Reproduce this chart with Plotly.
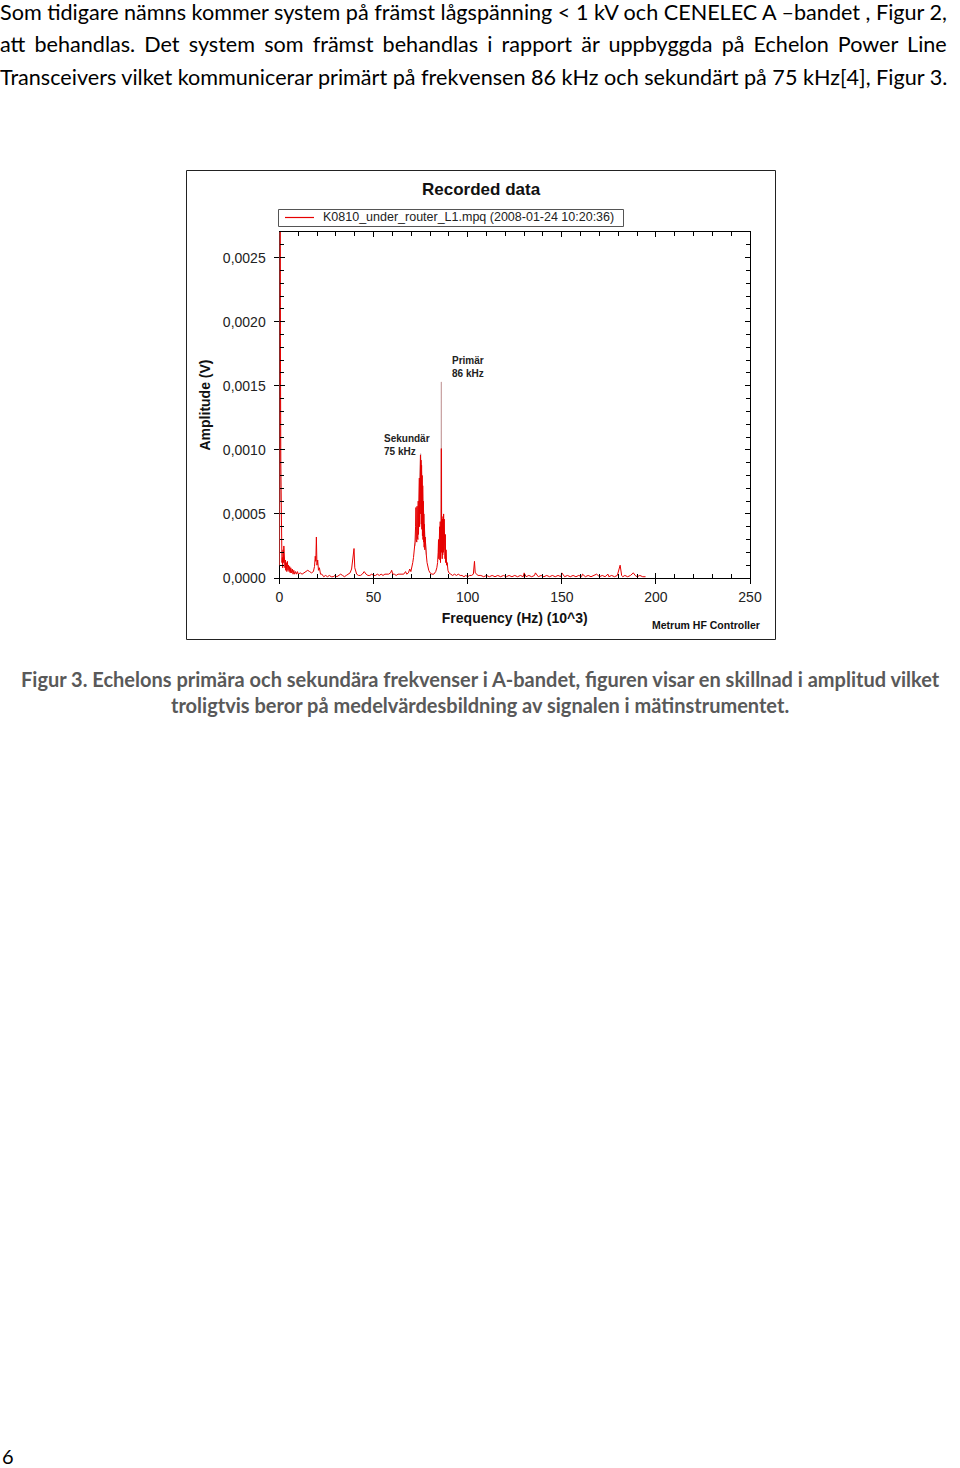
import plotly.graph_objects as go

W, H = 960, 1468

# ---- data ----
freq_khz = [0.0, 0.3, 0.5, 0.7, 0.9, 1.1, 1.3, 1.5, 1.7, 1.9, 2.1, 2.3, 2.5, 2.7, 2.9, 3.1, 3.3, 3.6, 3.9,
            4.2, 4.5, 4.8, 5.1, 5.4, 5.7, 6.0, 6.4, 6.8, 7.2, 7.6, 8.0, 8.5, 9.0, 9.5, 10.0, 11.0, 12.0, 13.0, 14.0,
            15.0, 16.0, 17.0, 18.0, 18.6, 19.0, 19.3, 19.6, 19.9, 20.3, 20.7, 21.2, 21.8, 22.5, 23.5, 24.5, 25.5,
            26.5, 27.5, 28.5, 29.5, 30.5, 31.5, 32.5, 33.5, 34.5, 35.5, 36.5, 37.5, 38.3, 38.8, 39.2, 39.6, 40.0,
            40.5, 41.0, 42.0, 43.0, 44.0, 45.0, 46.0, 47.0, 48.0, 49.0, 50.0, 51.0, 52.0, 53.0, 54.0, 55.0, 56.0,
            57.0, 58.0, 59.0, 59.6, 60.2, 61.0, 62.0, 63.0, 64.0, 65.0, 66.0, 67.0, 67.6, 68.5, 69.2, 69.8, 70.3,
            70.8, 71.2, 71.6, 72.0, 72.3, 72.5, 72.65, 72.8, 72.95, 73.1, 73.25, 73.4, 73.55, 73.7, 73.85, 74.0,
            74.15, 74.3, 74.45, 74.6, 74.75, 74.9, 75.05, 75.2, 75.35, 75.5, 75.65, 75.8, 75.95, 76.1, 76.25, 76.4,
            76.55, 76.7, 76.85, 77.0, 77.2, 77.4, 77.7, 78.0, 78.4, 78.8, 79.3, 80.0, 81.0, 82.0, 83.0, 83.6, 84.0,
            84.3, 84.5, 84.65, 84.8, 84.95, 85.1, 85.25, 85.4, 85.55, 85.7, 85.85, 86.0, 86.15, 86.3, 86.45, 86.6,
            86.75, 86.9, 87.05, 87.2, 87.35, 87.5, 87.65, 87.8, 87.95, 88.1, 88.3, 88.5, 88.8, 89.1, 89.5, 90.0,
            91.0, 92.0, 93.0, 94.0, 95.0, 96.0, 97.0, 98.0, 99.0, 100.0, 101.0, 102.0, 103.0, 103.6, 104.0, 104.6,
            105.5, 107.0, 108.5, 110.0, 111.5, 113.0, 114.5, 116.0, 117.5, 119.0, 120.5, 122.0, 123.5, 125.0,
            126.5, 128.0, 129.5, 130.0, 131.0, 132.5, 134.0, 135.5, 136.0, 137.5, 139.0, 140.5, 142.0, 143.5,
            145.0, 146.5, 148.0, 149.5, 150.0, 151.5, 153.0, 154.5, 156.0, 157.5, 159.0, 160.5, 161.0, 162.5,
            164.0, 165.5, 167.0, 168.5, 170.0, 171.5, 173.0, 174.5, 175.0, 176.5, 178.0, 179.5, 181.0, 181.8,
            182.4, 183.5, 185.0, 186.5, 188.0, 189.0, 190.0, 191.5, 193.0, 194.5, 195.3]
amp_v = [0.00010, 0.00290, 0.00180, 0.00090, 0.00040, 0.00020, 0.00012, 0.00016, 0.00008, 0.00022,
         0.00012, 0.00025, 0.00010, 0.00018, 0.00008, 0.00014, 0.00006, 0.00012, 0.00005, 0.00013, 0.00006,
         0.00010, 0.00005, 0.00009, 0.00004, 0.00008, 0.00004, 0.00007, 0.00003, 0.00006, 0.00003, 0.00005,
         0.00003, 0.00005, 0.00003, 0.00004, 0.00003, 0.00004, 0.00005, 0.00006, 0.00005, 0.00004, 0.00005,
         0.00009, 0.00017, 0.00013, 0.00032, 0.00010, 0.00014, 0.00006, 0.00008, 0.00003, 0.00003, 0.00001,
         0.00002, 0.00001, 0.00002, 0.00001, 0.00001, 0.00002, 0.00001, 0.00002, 0.00003, 0.00002, 0.00001,
         0.00002, 0.00003, 0.00004, 0.00007, 0.00012, 0.00016, 0.00023, 0.00008, 0.00005, 0.00003, 0.00002,
         0.00002, 0.00003, 0.00005, 0.00003, 0.00002, 0.00002, 0.00003, 0.00002, 0.00002, 0.00003, 0.00002,
         0.00003, 0.00002, 0.00003, 0.00003, 0.00003, 0.00004, 0.00006, 0.00003, 0.00003, 0.00002, 0.00003,
         0.00003, 0.00003, 0.00003, 0.00005, 0.00003, 0.00004, 0.00007, 0.00005, 0.00008, 0.00012, 0.00016,
         0.00021, 0.00028, 0.00040, 0.00055, 0.00030, 0.00052, 0.00028, 0.00056, 0.00032, 0.00055, 0.00030,
         0.00060, 0.00034, 0.00068, 0.00036, 0.00078, 0.00040, 0.00088, 0.00045, 0.00096, 0.00050, 0.00092,
         0.00042, 0.00088, 0.00038, 0.00080, 0.00033, 0.00072, 0.00030, 0.00060, 0.00028, 0.00050, 0.00024,
         0.00042, 0.00022, 0.00032, 0.00020, 0.00018, 0.00012, 0.00009, 0.00006, 0.00004, 0.00003, 0.00003,
         0.00005, 0.00008, 0.00012, 0.00020, 0.00030, 0.00015, 0.00036, 0.00016, 0.00040, 0.00014, 0.00044,
         0.00012, 0.00040, 0.00030, 0.00101, 0.00020, 0.00042, 0.00015, 0.00046, 0.00018, 0.00048, 0.00020,
         0.00050, 0.00022, 0.00046, 0.00018, 0.00040, 0.00015, 0.00034, 0.00012, 0.00022, 0.00010, 0.00012,
         0.00006, 0.00004, 0.00003, 0.00002, 0.00003, 0.00002, 0.00003, 0.00002, 0.00002, 0.00001, 0.00002,
         0.00001, 0.00002, 0.00002, 0.00003, 0.00013, 0.00004, 0.00003, 0.00002, 0.00002, 0.00001, 0.00002,
         0.00001, 0.00002, 0.00001, 0.00002, 0.00001, 0.00002, 0.00001, 0.00002, 0.00001, 0.00002, 0.00001,
         0.00002, 0.00001, 0.00004, 0.00001, 0.00002, 0.00001, 0.00002, 0.00004, 0.00001, 0.00002, 0.00001,
         0.00002, 0.00001, 0.00002, 0.00001, 0.00002, 0.00001, 0.00004, 0.00001, 0.00002, 0.00001, 0.00002,
         0.00001, 0.00002, 0.00001, 0.00003, 0.00001, 0.00002, 0.00001, 0.00002, 0.00003, 0.00001, 0.00002,
         0.00001, 0.00003, 0.00001, 0.00002, 0.00001, 0.00002, 0.00010, 0.00002, 0.00001, 0.00002, 0.00001,
         0.00002, 0.00004, 0.00002, 0.00001, 0.00002, 0.00001, 0.00001]

# lighter envelope trace visible behind the peaks (None = gap)
env_freq_khz = [0.0, 0.3, 0.6, None, 72.0, 73.0, 74.0, 75.0, 76.0, 77.0, 78.0, None,
                84.5, 85.8, 86.0, 86.2, 87.5, 89.0]
env_amp_v = [0.00010, 0.00290, 0.00060, None, 0.00025, 0.00045, 0.00060, 0.00097, 0.00065, 0.00040, 0.00018,
             None, 0.00020, 0.00030, 0.00153, 0.00030, 0.00030, 0.00010]

x_ticks = [0, 50, 100, 150, 200, 250]
y_ticks = [0.0, 0.0005, 0.0010, 0.0015, 0.0020, 0.0025]
x_range = [0, 250]
y_range = [0, 0.0027]

series_name = "K0810_under_router_L1.mpq (2008-01-24 10:20:36)"

body_lines = [
    "Som tidigare nämns kommer system på främst lågspänning < 1 kV och CENELEC A –bandet , Figur 2,",
    "att behandlas. Det system som främst behandlas i rapport är uppbyggda på Echelon Power Line",
    "Transceivers vilket kommunicerar primärt på frekvensen 86 kHz och sekundärt på 75 kHz[4], Figur 3.",
]
caption_lines = [
    "Figur 3. Echelons primära och sekundära frekvenser i A-bandet, figuren visar en skillnad i amplitud vilket",
    "troligtvis beror på medelvärdesbildning av signalen i mätinstrumentet.",
]

# ---- figure ----
def px_x(p):
    return p / W

def px_y(p):
    return 1 - p / H

CH = "Liberation Sans"
RED = "#e60000"

fig = go.Figure()
fig.add_trace(go.Scatter(x=env_freq_khz, y=env_amp_v, mode="lines", xaxis="x", yaxis="y",
                         line=dict(color="#c9a3a3", width=1), showlegend=False, hoverinfo="skip",
                         connectgaps=False))
fig.add_trace(go.Scatter(x=freq_khz, y=amp_v, mode="lines", xaxis="x2", yaxis="y2", name=series_name,
                         line=dict(color=RED, width=1), showlegend=False))

dom_x = [px_x(279.5), px_x(750)]
dom_y = [px_y(578), px_y(232)]

axis_font = dict(family=CH, size=14, color="#222")
fig.update_layout(
    width=W, height=H, margin=dict(l=0, r=0, t=0, b=0, autoexpand=False),
    paper_bgcolor="white", plot_bgcolor="white",
    separators=", ",
    font=dict(family=CH, color="#111"),
    xaxis=dict(domain=dom_x, range=x_range, tickvals=x_ticks, ticks="outside", ticklen=5, tickcolor="black",
               showline=True, linecolor="black", linewidth=1, mirror=True, showgrid=False, zeroline=False,
               tickfont=axis_font, ticklabelstandoff=1, layer="below traces", automargin=False,
               title=dict(text="<b>Frequency (Hz) (10^3)</b>", font=dict(family=CH, size=14, color="#111"),
                          standoff=9)),
    yaxis=dict(domain=dom_y, range=y_range, tickvals=y_ticks, tickformat=".4f", ticks="outside", ticklen=5,
               tickcolor="black", showline=True, linecolor="black", linewidth=1, mirror=True, showgrid=False,
               zeroline=False, tickfont=axis_font, ticklabelstandoff=5, layer="below traces", automargin=False,
               title=dict(text="<b>Amplitude (V)</b>", font=dict(family=CH, size=14, color="#111"),
                          standoff=8)),
    xaxis2=dict(domain=dom_x, range=x_range, overlaying="x", anchor="y2", tickvals=x_ticks, ticks="inside",
                ticklen=5, tickcolor="black", mirror="ticks", showticklabels=False, showgrid=False,
                zeroline=False, showline=False, automargin=False,
                minor=dict(dtick=10, ticks="inside", ticklen=4, tickcolor="black", showgrid=False)),
    yaxis2=dict(domain=dom_y, range=y_range, overlaying="y", anchor="x2", tickvals=y_ticks, ticks="inside",
                ticklen=5, tickcolor="black", mirror="ticks", showticklabels=False, showgrid=False,
                zeroline=False, showline=False, automargin=False,
                minor=dict(dtick=0.0001, ticks="inside", ticklen=4, tickcolor="black", showgrid=False)),
    showlegend=False,
)

# chart box and legend box
fig.add_shape(type="rect", xref="paper", yref="paper", x0=px_x(186.5), x1=px_x(775.5), y0=px_y(639.5),
              y1=px_y(170.5), line=dict(color="#222", width=1), layer="below")
fig.add_shape(type="rect", xref="paper", yref="paper", x0=px_x(278.5), x1=px_x(623.5), y0=px_y(226.5),
              y1=px_y(209.5), line=dict(color="#555", width=1), fillcolor="white", layer="above")
fig.add_shape(type="line", xref="paper", yref="paper", x0=px_x(285), x1=px_x(314), y0=px_y(217.5),
              y1=px_y(217.5), line=dict(color=RED, width=1.2), layer="above")

ann = []
ann.append(dict(text=series_name, x=px_x(321), y=px_y(217.5), xref="paper", yref="paper", showarrow=False,
                xanchor="left", yanchor="middle", font=dict(family=CH, size=12.5, color="#222")))
ann.append(dict(text="<b>Recorded data</b>", x=px_x(481), y=px_y(190), xref="paper", yref="paper",
                showarrow=False, xanchor="center", yanchor="middle", font=dict(family=CH, size=17, color="#111")))
ann.append(dict(text="<b>Metrum HF Controller</b>", x=px_x(762), y=px_y(625), xref="paper", yref="paper",
                showarrow=False, xanchor="right", yanchor="middle", font=dict(family=CH, size=10.5, color="#111")))
ann.append(dict(text="<b>Primär<br>86 kHz</b>", x=90.7, y=0.00165, xref="x2", yref="y2", showarrow=False,
                xanchor="left", yanchor="middle", align="left", font=dict(family=CH, size=10, color="#222")))
ann.append(dict(text="<b>Sekundär<br>75 kHz</b>", x=54.5, y=0.00104, xref="x2", yref="y2", showarrow=False,
                xanchor="left", yanchor="middle", align="left", font=dict(family=CH, size=10, color="#222")))

BODY = "Lato"
BODY_SIZE = 21.6
body_font = dict(family=BODY, size=BODY_SIZE, color="black")
# the second line is justified in the document: widen its word gaps a little
gap_extra = {0: "", 1: "\u2006", 2: ""}
for i, line in enumerate(body_lines):
    text = line.replace(" ", " " + gap_extra[i]) if gap_extra[i] else line
    ann.append(dict(text=text, x=px_x(-2), y=px_y(12 + 32.5 * i), xref="paper", yref="paper",
                    showarrow=False, xanchor="left", yanchor="middle", font=body_font))
for i, line in enumerate(caption_lines):
    ann.append(dict(text="<b>" + line + "</b>", x=0.5, y=px_y(679 + 26 * i), xref="paper", yref="paper",
                    showarrow=False, xanchor="center", yanchor="middle",
                    font=dict(family=BODY, size=20, color="#595959")))
ann.append(dict(text="6", x=px_x(0), y=px_y(1456), xref="paper", yref="paper", showarrow=False,
                xanchor="left", yanchor="middle", font=dict(family=BODY, size=20, color="black")))
fig.update_layout(annotations=ann)

fig.write_html("out.html")
